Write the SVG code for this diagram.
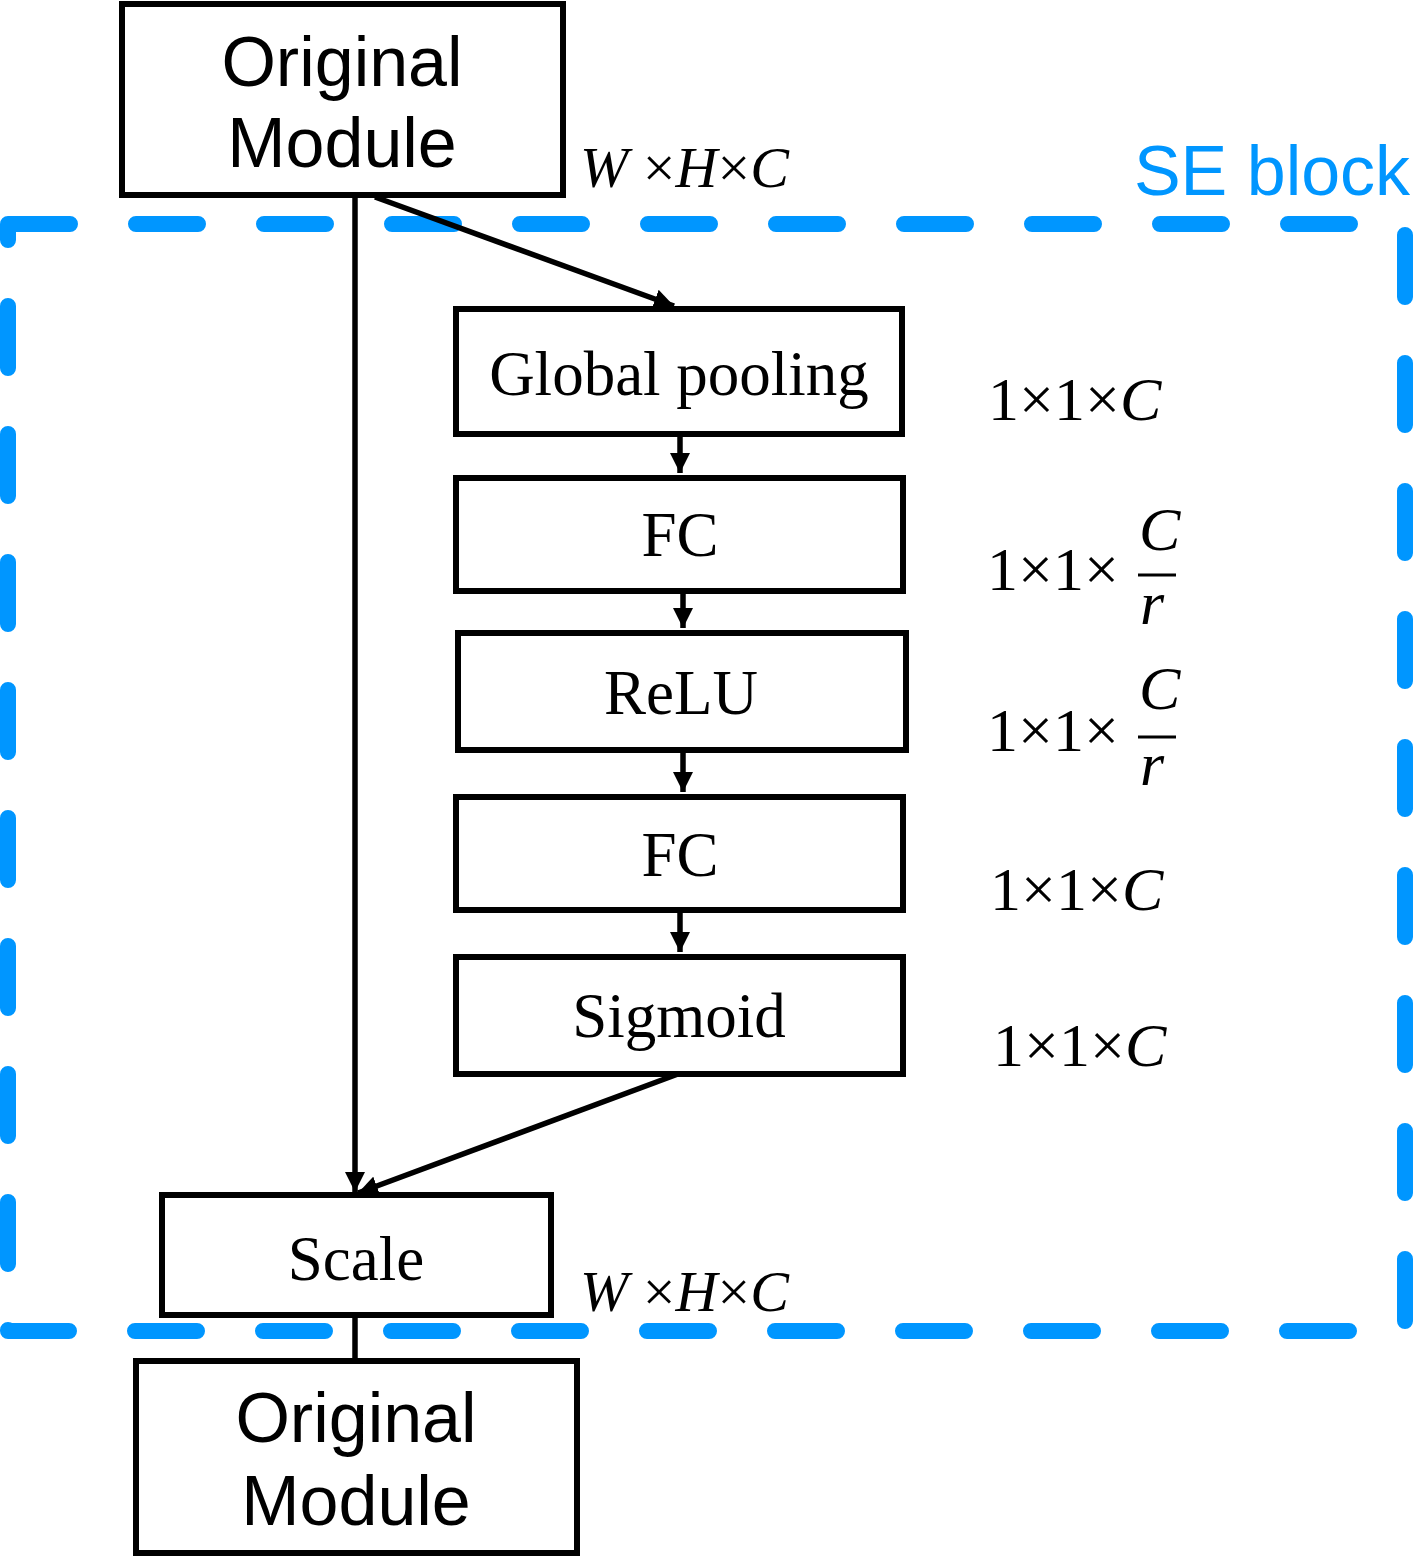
<svg xmlns="http://www.w3.org/2000/svg" width="1413" height="1559" viewBox="0 0 1413 1559">
<style>
.box{fill:#fff;stroke:#000;stroke-width:6}
.sans{font-family:"Liberation Sans",Arial,sans-serif;font-size:70px;fill:#000;text-anchor:middle}
.serif{font-family:"Liberation Serif","Times New Roman",serif;font-size:63px;fill:#000;text-anchor:middle}
.math{font-family:"Liberation Serif","Times New Roman",serif;font-size:62px;fill:#000}
.dim{font-size:58px}
.it{font-style:italic}
.edge{stroke:#000;stroke-width:5.5;fill:none}
</style>
<defs>
<marker id="ah" viewBox="0 0 20 20" refX="20" refY="10" markerWidth="20" markerHeight="20" markerUnits="userSpaceOnUse" orient="auto">
<path d="M0,0 L20,10 L0,20 Z" fill="#000"/>
</marker>
</defs>
<rect width="1413" height="1559" fill="#fff"/>
<g id="se-block">
<path d="M8,224 H1405 V1331 H8 Z" fill="none" stroke="#0096ff" stroke-width="16" stroke-dasharray="62 66" stroke-linecap="round" stroke-linejoin="round"/>
<text x="1272" y="195" font-family="Liberation Sans,Arial,sans-serif" font-size="70" fill="#0096ff" text-anchor="middle">SE block</text>
</g>
<g id="connectors">
<line class="edge" x1="355" y1="197" x2="355" y2="1192" marker-end="url(#ah)"/>
<line class="edge" x1="375" y1="197" x2="674" y2="306" marker-end="url(#ah)"/>
<line class="edge" x1="680" y1="434" x2="680" y2="473" marker-end="url(#ah)"/>
<line class="edge" x1="683" y1="591" x2="683" y2="628" marker-end="url(#ah)"/>
<line class="edge" x1="683" y1="750" x2="683" y2="792" marker-end="url(#ah)"/>
<line class="edge" x1="680" y1="910" x2="680" y2="952" marker-end="url(#ah)"/>
<line class="edge" x1="678" y1="1074" x2="358" y2="1193" marker-end="url(#ah)"/>
<line class="edge" x1="355" y1="1316" x2="355" y2="1360"/>
</g>
<g id="orig-top">
<rect class="box" x="122" y="4" width="441" height="191" stroke-width="5"/>
<text class="sans" x="342" y="86">Original</text>
<text class="sans" x="342" y="167">Module</text>
</g>
<g id="global-pooling">
<rect class="box" x="456" y="309" width="446" height="125"/>
<text class="serif" x="679" y="395">Global pooling</text>
</g>
<g id="fc1">
<rect class="box" x="456" y="478" width="447" height="113"/>
<text class="serif" x="680" y="556">FC</text>
</g>
<g id="relu">
<rect class="box" x="458" y="633" width="448" height="117"/>
<text class="serif" x="681" y="714">ReLU</text>
</g>
<g id="fc2">
<rect class="box" x="456" y="797" width="447" height="113"/>
<text class="serif" x="680" y="876">FC</text>
</g>
<g id="sigmoid">
<rect class="box" x="456" y="957" width="447" height="117"/>
<text class="serif" x="679" y="1037">Sigmoid</text>
</g>
<g id="scale">
<rect class="box" x="162" y="1195" width="389" height="120"/>
<text class="serif" x="356" y="1280">Scale</text>
</g>
<g id="orig-bottom">
<rect class="box" x="136" y="1361" width="441" height="192" stroke-width="5"/>
<text class="sans" x="356" y="1442">Original</text>
<text class="sans" x="356" y="1525">Module</text>
</g>
<g id="dims">
<text class="math dim" x="580" y="187"><tspan class="it">W</tspan> ×<tspan class="it">H</tspan>×<tspan class="it">C</tspan></text>
<text class="math dim" x="580" y="1311"><tspan class="it">W</tspan> ×<tspan class="it">H</tspan>×<tspan class="it">C</tspan></text>
<text class="math" x="988" y="420">1×1×<tspan class="it">C</tspan></text>
<text class="math" x="987" y="590">1×1×</text>
<text class="math it" x="1139" y="550">C</text>
<line x1="1138" y1="575" x2="1176" y2="575" stroke="#000" stroke-width="3"/>
<text class="math it" x="1140" y="624">r</text>
<text class="math" x="987" y="751">1×1×</text>
<text class="math it" x="1139" y="709">C</text>
<line x1="1138" y1="737" x2="1176" y2="737" stroke="#000" stroke-width="3"/>
<text class="math it" x="1140" y="785">r</text>
<text class="math" x="990" y="910">1×1×<tspan class="it">C</tspan></text>
<text class="math" x="993" y="1066">1×1×<tspan class="it">C</tspan></text>
</g>
</svg>
